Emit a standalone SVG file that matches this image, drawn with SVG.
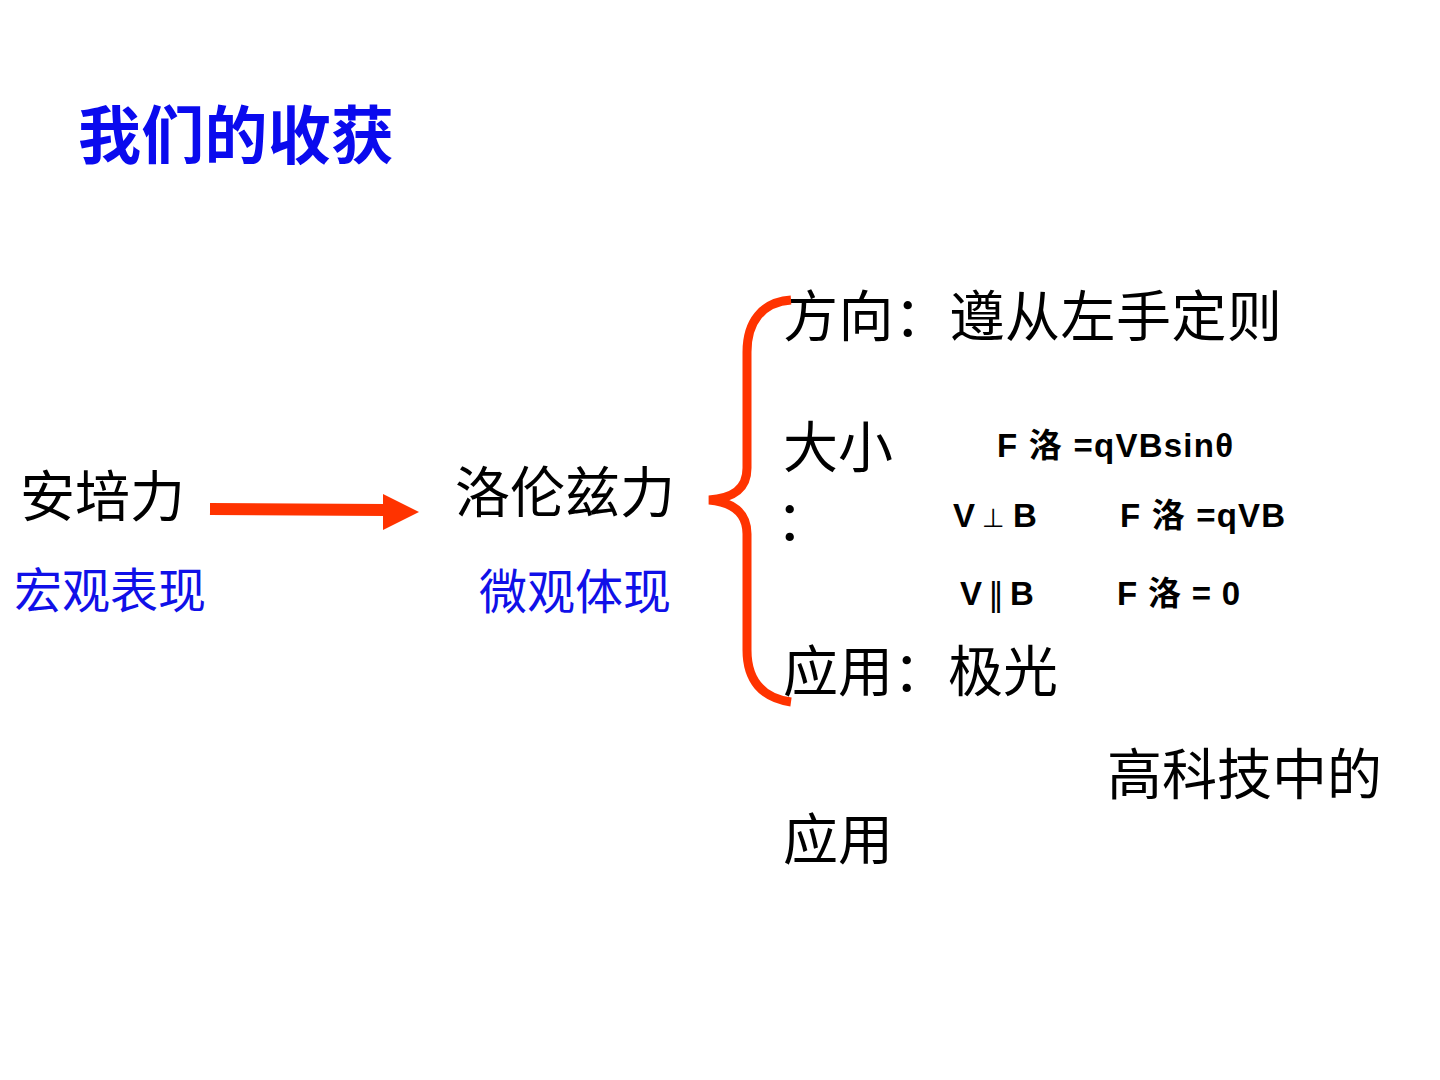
<svg xmlns="http://www.w3.org/2000/svg" width="1440" height="1080" viewBox="0 0 1440 1080">
<style>
.cn{font-family:"Noto Sans CJK SC","Noto Sans",sans-serif;fill:#000;}
.big{font-size:55px;}
.blue{fill:#1010e8;font-size:48px;}
.f{font-family:"Liberation Sans","Noto Sans CJK SC",sans-serif;font-weight:bold;font-size:33px;fill:#000;}
.sym{font-family:"DejaVu Sans",sans-serif;font-weight:normal;font-size:26px;}
.conn{stroke:#FF3300;fill:none;}
</style>
<rect width="1440" height="1080" fill="#fff"/>
<g id="title"><text x="78" y="158" class="cn" style="font-size:63px;font-weight:bold;fill:#0a0aee" textLength="316" lengthAdjust="spacing">我们的收获</text></g>
<g id="node-ampere">
<text x="20" y="516" class="cn big">安培力</text>
<text x="14" y="608" class="cn blue">宏观表现</text>
</g>
<g id="node-lorentz">
<text x="455" y="512" class="cn big">洛伦兹力</text>
<text x="479" y="609" class="cn blue">微观体现</text>
</g>
<g id="node-direction"><text x="783" y="336" class="cn big" textLength="499" lengthAdjust="spacing">方向：遵从左手定则</text></g>
<g id="node-magnitude">
<text x="783" y="467" class="cn big">大小</text>
<text x="776" y="540" class="cn big">：</text>
<text x="997" y="457" class="f" textLength="236" lengthAdjust="spacing">F 洛 =qVBsinθ</text>
<text y="527" class="f"><tspan x="953">V</tspan><tspan x="982" class="sym">⊥</tspan><tspan x="1013">B</tspan></text>
<text x="1120" y="527" class="f" textLength="165" lengthAdjust="spacing">F 洛 =qVB</text>
<text y="605" class="f"><tspan x="960">V</tspan><tspan x="988" class="sym" style="font-size:32px">‖</tspan><tspan x="1010">B</tspan></text>
<text x="1117" y="605" class="f" textLength="123" lengthAdjust="spacing">F 洛 = 0</text>
</g>
<g id="node-application"><text x="783" y="691" class="cn big">应用：极光</text></g>
<g id="node-hightech">
<text x="1107" y="794" class="cn big">高科技中的</text>
<text x="783" y="859" class="cn big">应用</text>
</g>
<g id="connectors">
<line x1="210" y1="509" x2="386" y2="510" class="conn" stroke-width="12"/>
<polygon points="383,494 419,512 383,530" fill="#FF3300"/>
<path class="conn" stroke-width="9" d="M791,300 C762,302 747,322 747,352 L747,468 C747,490 732,498 709,500 C732,502 747,512 747,534 L747,650 C747,680 762,698 791,702"/>
</g>
</svg>
